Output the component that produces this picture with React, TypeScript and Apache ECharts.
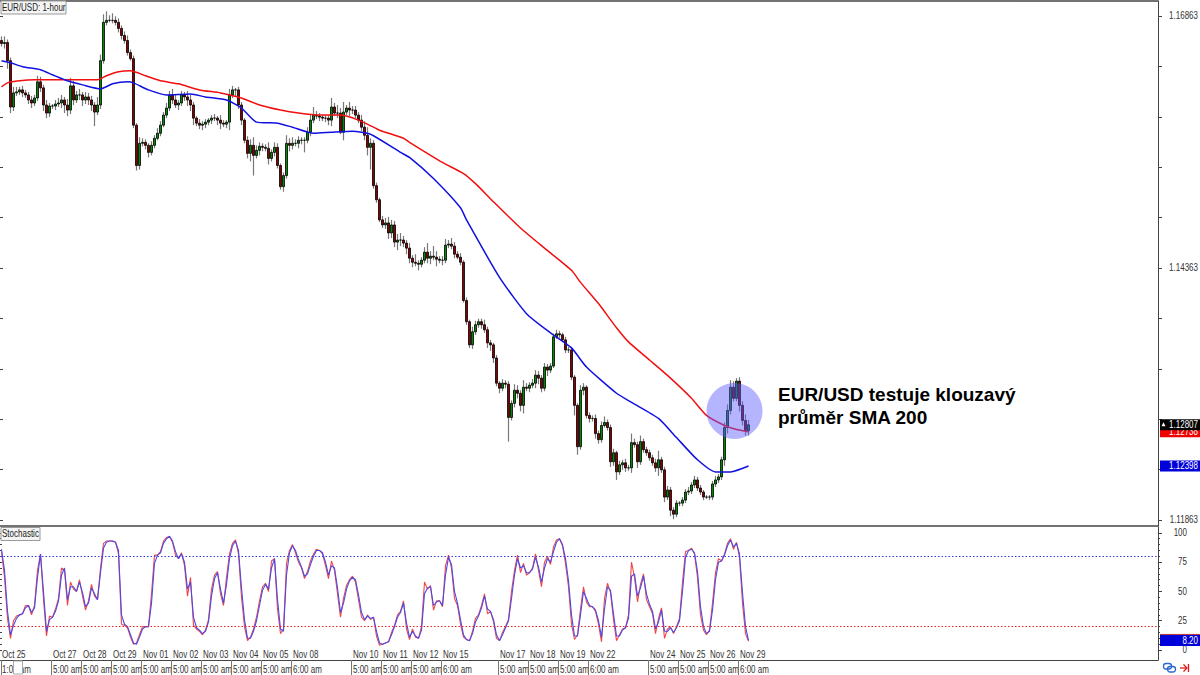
import React, { useEffect, useRef } from "react";
import * as echarts from "echarts";

// Hourly closes of EUR/USD in pips (1 pip = 0.0001).
const closePips = [
  11659,11660,11642,11596,11610,11611,11613,11610,11608,11603,
  11600,11605,11621,11615,11598,11590,11597,11597,11599,11600,
  11603,11598,11593,11617,11603,11608,11608,11603,11606,11603,
  11598,11591,11598,11642,11680,11682,11682,11682,11680,11674,
  11667,11662,11650,11644,11578,11538,11560,11561,11558,11551,
  11558,11565,11570,11578,11588,11595,11608,11603,11598,11600,
  11608,11606,11603,11598,11585,11580,11578,11579,11581,11583,
  11585,11585,11583,11580,11579,11581,11608,11613,11613,11598,
  11583,11563,11550,11558,11548,11553,11557,11556,11555,11545,
  11551,11556,11538,11517,11528,11560,11558,11560,11560,11563,
  11563,11563,11571,11583,11588,11587,11586,11585,11585,11583,
  11596,11590,11590,11571,11591,11595,11593,11593,11588,11583,
  11576,11568,11556,11560,11518,11504,11484,11479,11481,11471,
  11479,11462,11464,11464,11461,11456,11446,11442,11441,11440,
  11444,11452,11446,11448,11447,11445,11444,11444,11459,11460,
  11458,11450,11447,11442,11404,11383,11360,11373,11380,11383,
  11380,11375,11362,11360,11347,11322,11317,11322,11321,11288,
  11302,11315,11312,11300,11318,11317,11320,11322,11330,11327,
  11317,11338,11335,11339,11368,11371,11370,11365,11355,11355,
  11328,11300,11259,11315,11318,11290,11287,11287,11272,11266,
  11280,11283,11278,11244,11253,11234,11241,11243,11238,11238,
  11263,11261,11244,11264,11256,11253,11248,11243,11238,11246,
  11236,11209,11216,11196,11192,11203,11203,11206,11214,11215,
  11221,11226,11218,11214,11209,11209,11209,11222,11226,11229,
  11246,11278,11295,11318,11307,11324,11300,11285,11275,11280.7,
];
const firstOpenPips = 11662;
const upperWickPips = [
  4,6,3,3,6,5,3,4,3,3, 4,3,6,5,3,5,3,2,4,5, 5,3,6,8,5,4,6,3,5,4, 4,3,8,6,8,9,5,7,4,4,
  3,4,5,3,3,2,6,4,3,2, 4,3,5,4,3,5,4,6,5,3, 4,3,6,5,3,2,4,3,3,2, 3,4,2,5,3,2,6,4,2,3,
  3,2,4,6,8,5,4,3,3,6, 3,5,4,2,3,8,5,6,4,4, 3,3,5,5,8,4,3,2,3,3, 9,4,8,5,10,3,6,4,4,3,
  5,6,8,5,3,3,2,4,5,6, 5,4,6,7,4,3,5,3,8,3, 3,5,9,5,10,6,3,4,6,4, 6,4,3,4,2,3,2,5,4,3,
  3,5,3,3,2,3,2,4,3,3, 3,6,5,3,7,4,3,4,5,4, 3,4,3,3,3,4,3,2,3,3, 3,2,2,5,4,2,3,3,4,3,
  4,6,3,3,4,2,4,3,4,3, 9,4,3,6,3,3,3,3,4,9, 3,3,4,3,3,3,2,3,3,4, 3,4,3,3,2,2,2,3,4,3,
  3,5,6,7,6,3,4,4,6,5,
];
const lowerWickPips = [
  3,5,8,6,4,3,3,4,3,4, 5,3,3,4,6,5,4,3,4,3, 5,8,6,4,5,3,5,6,4,5, 6,14,3,4,3,3,2,3,3,4,
  4,3,3,2,3,5,4,3,4,5, 3,3,2,3,2,3,3,4,3,5, 3,4,6,6,7,3,4,5,4,3, 4,3,5,6,3,4,8,3,6,4,
  5,3,5,8,20,3,5,4,3,6, 3,4,3,3,5,3,6,4,3,5, 4,12,3,4,3,3,4,3,4,5, 6,3,5,2,8,3,6,4,3,3,
  4,5,8,22,3,3,2,3,4,6, 5,5,8,6,4,6,5,5,3,6, 3,3,5,6,3,7,3,5,3,3, 3,4,2,3,2,3,3,4,3,3,
  4,3,5,6,5,3,5,3,4,24, 3,4,5,6,8,3,4,3,5,6, 4,3,6,3,2,2,3,2,3,3, 3,10,8,3,5,3,4,3,5,4,
  3,2,3,5,4,8,3,5,4,3, 5,3,6,3,3,3,3,3,4,8, 3,5,3,6,5,3,3,3,3,3, 3,3,3,3,3,2,3,3,3,3,
  3,6,6,4,3,3,6,5,5,5,
];

// Moving averages as [bar, pips], at the points.
const sma200Points = [
  [0,11616],[2,11620],[6,11622],[11,11623],[16,11623],[23,11623],[32,11623],[35,11627],[39,11631],[43,11632],
  [48,11627],[53,11622],[59,11619],[66,11613],[73,11610],[80,11605],[86,11598],[93,11593],[99,11590],[106,11588],
  [113,11588],[119,11583],[124,11576],[126,11573],[134,11565],[136,11561],[147,11541],[154,11530],[158,11520],
  [164,11502],[173,11476],[181,11456],[190,11434],[193,11422],[199,11401],[205,11377],[209,11363],[216,11345],
  [223,11327],[230,11307],[235,11290],[241,11280],[245,11276],[249,11273.8],
];
const sma100Points = [
  [0,11642],[3,11640],[7,11636],[13,11633],[17,11628],[22,11622],[27,11618],[33,11614],[37,11619],[42,11621],
  [44,11620],[49,11613],[55,11608],[63,11609],[68,11606],[75,11603],[80,11595],[85,11581],[92,11580],[97,11576],
  [104,11570],[110,11571],[117,11572],[123,11569],[133,11551],[136,11546],[144,11525],[153,11496],[155,11484],
  [166,11427],[175,11391],[183,11372],[190,11357],[195,11338],[205,11312],[210,11303],[219,11287],[225,11268],
  [232,11246],[238,11234],[243,11234],[249,11239.8],
];

const stochK = [
  84,62,27,10,25,29,30,31,38,38, 30,38,68,82,43,12,29,28,35,44, 70,68,38,58,52,50,60,46,34,42,
  56,46,43,70,91,93,93,93,92,82, 22,21,19,11,5,6,13,20,20,20, 48,81,81,84,93,96,97,92,81,78,
  83,72,46,62,21,18,16,13,17,26, 52,64,67,48,38,62,82,91,94,82, 45,20,8,11,18,28,42,54,57,50,
  76,78,35,14,18,74,85,90,83,75, 70,61,67,76,82,86,85,82,72,61, 76,68,48,28,44,55,60,63,58,43,
  28,25,30,26,28,12,4,5,6,7, 15,21,30,33,42,18,9,18,11,10, 20,58,52,55,34,42,42,37,72,81,
  70,44,38,22,11,9,8,16,27,30, 38,48,31,33,24,10,8,15,20,26, 50,68,81,66,74,64,66,70,82,68,
  54,75,80,73,88,94,95,89,74,54, 22,9,13,35,54,41,37,37,33,22, 7,44,57,49,26,8,13,18,19,30,
  75,62,41,56,65,43,37,31,14,27, 36,10,18,20,14,20,27,58,84,85, 87,82,62,30,17,13,17,40,66,78,
  76,82,91,95,86,92,79,40,14,7.5,
];
const stochD = [
  86,68,33,13,21,27,30,31,36,38, 32,36,62,82,50,16,26,28,33,42, 64,70,43,54,54,50,58,49,37,40,
  53,48,43,66,87,92,93,93,92,85, 30,22,20,13,6,5,11,18,20,20, 40,74,81,83,91,95,97,93,84,78,
  82,75,52,58,28,19,17,14,16,24, 46,61,66,52,40,56,78,89,93,85, 53,26,10,10,16,25,38,51,56,52,
  70,78,43,18,16,64,83,89,85,77, 71,63,65,73,80,85,85,83,75,64, 72,70,53,32,40,52,59,62,60,47,
  32,26,29,27,28,16,6,5,6,7, 13,20,28,32,40,23,11,16,12,10, 17,48,53,54,38,41,42,38,64,79,
  73,50,40,26,13,9,8,14,24,29, 36,46,35,33,26,13,8,13,19,25, 44,64,78,70,72,66,66,69,79,71,
  58,70,78,75,84,92,95,90,78,59, 30,12,12,30,50,44,38,37,34,25, 11,35,54,51,31,12,12,17,19,27,
  63,65,46,53,63,48,39,33,18,24, 34,16,16,19,15,19,25,50,79,85, 86,83,67,37,20,14,16,34,60,75,
  76,81,89,94,88,91,82,49,20,8.2,
];

const dayBars = [0,17,27,37,47,57,67,77,87,97,117,127,137,147,166,176,186,196,216,226,236,246];
const dayLabels = ["Oct 25","Oct 27","Oct 28","Oct 29","Nov 01","Nov 02","Nov 03","Nov 04","Nov 05","Nov 08","Nov 10","Nov 11","Nov 12","Nov 15","Nov 17","Nov 18","Nov 19","Nov 22","Nov 24","Nov 25","Nov 26","Nov 29"];
const hourLabels = ["1:00 am","5:00 am","5:00 am","5:00 am","5:00 am","5:00 am","5:00 am","5:00 am","5:00 am","6:00 am","5:00 am","5:00 am","5:00 am","6:00 am","5:00 am","5:00 am","5:00 am","6:00 am","5:00 am","5:00 am","5:00 am","6:00 am"];

const priceTicks = [1.11863,1.12363,1.12863,1.13363,1.13863,1.14363,1.14863,1.15363,1.15863,1.16363,1.16863];
const priceLabels = [1.11863,1.14363,1.16863];
const stochLabels = [0,25,50,75,100];
const stochMinorTicks = [0,5,10,15,20,25,30,35,40,45,50,55,60,65,70,75,80,85,90,95,100];
const overbought = 80;
const oversold = 20;
const lastPrice = 1.12807;
const lastSma200 = 1.12738;
const lastSma100 = 1.12398;
const lastStoch = 8.2;

const TOTAL_BARS = 386;
const FONT = '"Liberation Sans", Arial, sans-serif';
const INK = "#333333";
const FRAME = "#444444";
const NARROW = 0.8;

const toPrice = (p: number) => p / 10000;
const categories = Array.from({ length: TOTAL_BARS }, (_, i) => String(i));

const opens = closePips.map((_, i) => (i === 0 ? firstOpenPips : closePips[i - 1]));
const fullCandles = closePips.map((c, i) => {
  const o = opens[i];
  return [toPrice(o), toPrice(c), toPrice(Math.min(o, c) - lowerWickPips[i]), toPrice(Math.max(o, c) + upperWickPips[i])];
});
const bodyCandles = closePips.map((c, i) => {
  const o = opens[i];
  return [toPrice(o), toPrice(c), toPrice(Math.min(o, c)), toPrice(Math.max(o, c))];
});

const baseX = (gridIndex: number, lineWidth = 1) => ({
  type: "category",
  gridIndex,
  data: categories,
  boundaryGap: true,
  min: 0,
  max: TOTAL_BARS - 1,
  axisTick: { show: false },
  axisLabel: { show: false },
  axisLine: { show: true, onZero: false, lineStyle: { color: FRAME, width: lineWidth } },
  splitLine: { show: false },
});

const priceRange = { min: 1.11803, max: 1.17012 };
const stochRange = { min: -8.5, max: 105 };

function buildOption() {
  return {
    animation: false,
    backgroundColor: "#ffffff",
    grid: [
      { left: 0, top: 1, width: 1158, height: 525 },
      { left: 0, top: 527, width: 1158, height: 133 },
    ],
    xAxis: [
      { ...baseX(0, 1.5), position: "top" },
      { ...baseX(0, 1.5), position: "bottom" },
      { ...baseX(1), position: "bottom" },
    ],
    yAxis: [
      {
        type: "value",
        gridIndex: 0,
        position: "right",
        ...priceRange,
        scale: true,
        splitLine: { show: false },
        axisLine: { show: true, lineStyle: { color: FRAME } },
        axisTick: { show: true, length: 4, customValues: priceTicks, lineStyle: { color: FRAME } },
        axisLabel: { show: false },
      },
      {
        type: "value",
        gridIndex: 0,
        position: "left",
        ...priceRange,
        scale: true,
        splitLine: { show: false },
        axisLine: { show: false },
        axisLabel: { show: false },
        axisTick: { show: true, inside: true, length: 3, customValues: priceTicks, lineStyle: { color: FRAME } },
      },
      {
        type: "value",
        gridIndex: 1,
        position: "right",
        ...stochRange,
        scale: true,
        splitLine: { show: false },
        axisLine: { show: true, lineStyle: { color: FRAME } },
        axisTick: { show: true, length: 4, customValues: stochLabels, lineStyle: { color: FRAME } },
        axisLabel: { show: false },
      },
      {
        type: "value",
        gridIndex: 1,
        position: "right",
        ...stochRange,
        scale: true,
        splitLine: { show: false },
        axisLine: { show: false },
        axisLabel: { show: false },
        axisTick: { show: true, length: 2, customValues: stochMinorTicks, lineStyle: { color: FRAME } },
      },
      {
        type: "value",
        gridIndex: 1,
        position: "left",
        ...stochRange,
        scale: true,
        splitLine: { show: false },
        axisLine: { show: false },
        axisLabel: { show: false },
        axisTick: { show: true, inside: true, length: 2, customValues: stochMinorTicks, lineStyle: { color: FRAME } },
      },
    ],
    series: [
      {
        name: "wicks",
        type: "candlestick",
        xAxisIndex: 0,
        yAxisIndex: 0,
        data: fullCandles,
        barWidth: 1,
        itemStyle: { color: "#787878", color0: "#787878", borderColor: "#787878", borderColor0: "#787878", borderWidth: 1.2 },
      },
      {
        name: "EUR/USD",
        type: "candlestick",
        xAxisIndex: 0,
        yAxisIndex: 0,
        data: bodyCandles,
        barWidth: 2.6,
        itemStyle: { color: "#008a00", color0: "#8a0000", borderColor: "#000000", borderColor0: "#000000", borderWidth: 0.8 },
      },
      {
        name: "SMA 200",
        type: "line",
        xAxisIndex: 0,
        yAxisIndex: 0,
        data: sma200Points.map(([b, p]) => [b, toPrice(p)]),
        showSymbol: false,
        smooth: 0.2,
        lineStyle: { color: "#f01010", width: 1.5 },
      },
      {
        name: "SMA 100",
        type: "line",
        xAxisIndex: 0,
        yAxisIndex: 0,
        data: sma100Points.map(([b, p]) => [b, toPrice(p)]),
        showSymbol: false,
        smooth: 0.2,
        lineStyle: { color: "#1010e0", width: 1.5 },
      },
      {
        name: "%K",
        type: "line",
        xAxisIndex: 2,
        yAxisIndex: 2,
        data: stochK,
        showSymbol: false,
        lineStyle: { color: "#f04848", width: 1.1 },
        markLine: {
          silent: true,
          symbol: "none",
          label: { show: false },
          data: [
            { yAxis: overbought, lineStyle: { color: "#3a3ae0", width: 1, type: [1.5, 2] } },
            { yAxis: oversold, lineStyle: { color: "#e82020", width: 1, type: [1.5, 2] } },
          ],
        },
      },
      {
        name: "%D",
        type: "line",
        xAxisIndex: 2,
        yAxisIndex: 2,
        data: stochD,
        showSymbol: false,
        lineStyle: { color: "#4a4ae8", width: 1.1 },
      },
    ],
  };
}

function smallText(x: number, y: number, text: string, fill: string, align: string, z = 20) {
  return {
    type: "text",
    z,
    x,
    y,
    scaleX: NARROW,
    style: { x: 0, y: 0, text, fill, font: `10px ${FONT}`, textAlign: align, textVerticalAlign: "middle" },
  };
}

function tag(y: number, text: string, bg: string, z: number) {
  return [
    { type: "rect", z, shape: { x: 1160, y: y - 5.5, width: 40, height: 11 }, style: { fill: bg } },
    smallText(1198, y, text, "#ffffff", "right", z + 1),
  ];
}

function titleBox(x: number, y: number, w: number, h: number, text: string) {
  return [
    { type: "rect", z: 40, shape: { x, y, width: w, height: h }, style: { fill: "#f4f4f4", stroke: "#9a9a9a", lineWidth: 1 } },
    smallText(x + 1, y + h / 2, text, "#222222", "left", 41),
  ];
}

function buildGraphic(chart: echarts.ECharts) {
  const px = (bar: number) => chart.convertToPixel({ xAxisIndex: 2 }, bar) as number;
  const py = (v: number) => chart.convertToPixel({ yAxisIndex: 0 }, v) as number;
  const sy = (v: number) => chart.convertToPixel({ yAxisIndex: 2 }, v) as number;
  const blackY = py(lastPrice);
  const stochY = sy(lastStoch);
  return [
    ...priceLabels.map((v) => smallText(1198, py(v), v.toFixed(5), INK, "right")),
    ...stochLabels.map((v) => smallText(1187, sy(v), String(v), INK, "right")),
    ...dayBars.map((b, i) => smallText(b === 0 ? 2 : px(b) + 0.5, 655, dayLabels[i], INK, "left")),
    ...dayBars.map((b, i) => smallText(b === 0 ? 2 : px(b) + 0.5, 670, hourLabels[i], INK, "left")),
    ...dayBars.map((b) => ({
      type: "line",
      z: 20,
      shape: { x1: Math.max(px(b) - 1.5, 1) + 0.5, y1: 660, x2: Math.max(px(b) - 1.5, 1) + 0.5, y2: 675 },
      style: { stroke: "#777777", lineWidth: 1 },
    })),
    {
      type: "circle",
      z: 30,
      shape: { cx: 734.5, cy: 411, r: 28 },
      style: { fill: "rgba(92,92,255,0.46)" },
    },
    {
      type: "text",
      z: 31,
      style: { x: 778, y: 394, text: "EUR/USD testuje klouzavý", fill: "#000000", font: 'bold 19px "Liberation Sans", Arial, sans-serif', textVerticalAlign: "middle" },
    },
    {
      type: "text",
      z: 31,
      style: { x: 778, y: 417, text: "průměr SMA 200", fill: "#000000", font: 'bold 19px "Liberation Sans", Arial, sans-serif', textVerticalAlign: "middle" },
    },
    ...titleBox(1, 1, 65, 13, "EUR/USD: 1-hour"),
    ...titleBox(1, 527.5, 39, 13, "Stochastic"),
    ...tag(py(lastSma200), lastSma200.toFixed(5), "#f00000", 32),
    ...tag(blackY, lastPrice.toFixed(5), "#000000", 34),
    { type: "polygon", z: 36, shape: { points: [[1161.5, blackY + 1.5], [1165.5, blackY + 1.5], [1163.5, blackY - 2.5]] }, style: { fill: "#ffffff" } },
    ...tag(py(lastSma100), lastSma100.toFixed(5), "#0000d8", 32),
    ...tag(stochY, lastStoch.toFixed(2), "#0000d8", 32),
    { type: "line", z: 36, shape: { x1: 1160, y1: stochY - 6, x2: 1200, y2: stochY - 6 }, style: { stroke: "#b03030", lineWidth: 1 } },
    // shift handle over the first time label
    { type: "rect", z: 42, shape: { x: 13.5, y: 661, width: 9, height: 13 }, style: { fill: "#ffffff", stroke: "#aaaaaa", lineWidth: 1 } },
    // chart-link and auto-scroll icons
    { type: "rect", z: 42, shape: { x: 1163.5, y: 663.5, width: 8, height: 5.5, r: 2.5 }, style: { fill: "none", stroke: "#2a6ad0", lineWidth: 1.3 } },
    { type: "rect", z: 42, shape: { x: 1167.5, y: 666.5, width: 8, height: 5.5, r: 2.5 }, style: { fill: "none", stroke: "#2a6ad0", lineWidth: 1.3 } },
    { type: "line", z: 42, shape: { x1: 1180, y1: 668, x2: 1187, y2: 668 }, style: { stroke: "#e01818", lineWidth: 1.3 } },
    { type: "polyline", z: 42, shape: { points: [[1183.5, 664.5], [1187, 668], [1183.5, 671.5]] }, style: { fill: "none", stroke: "#e01818", lineWidth: 1.3 } },
    { type: "line", z: 42, shape: { x1: 1188.5, y1: 664, x2: 1188.5, y2: 672 }, style: { stroke: "#e01818", lineWidth: 1.3 } },
  ];
}

export default function App() {
  const ref = useRef<HTMLDivElement>(null);
  useEffect(() => {
    if (!ref.current) return;
    const chart = echarts.init(ref.current, undefined, { renderer: "svg" });
    chart.setOption(buildOption() as any);
    chart.setOption({ graphic: buildGraphic(chart) } as any);
    return () => chart.dispose();
  }, []);
  return <div ref={ref} style={{ position: "fixed", left: 0, top: 0, width: 1200, height: 675, background: "#fff" }} />;
}
